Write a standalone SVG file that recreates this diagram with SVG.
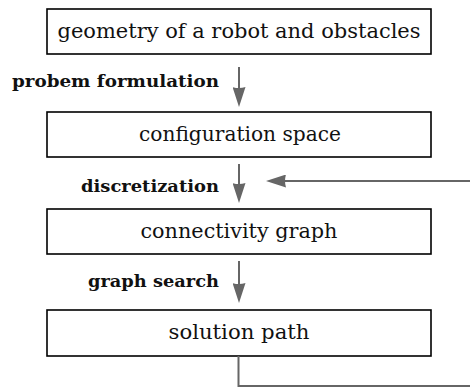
<svg xmlns="http://www.w3.org/2000/svg" width="470" height="388" viewBox="0 0 470 388">
<style>
.box{fill:#fff;stroke:#000;stroke-width:1.6}
.t{font-family:'DejaVu Serif','Liberation Serif',serif;font-size:20px;fill:#111;text-anchor:middle}
.l{font-family:'DejaVu Serif','Liberation Serif',serif;font-size:16px;font-weight:bold;fill:#111;text-anchor:end}
.c{fill:none;stroke:#666;stroke-width:2}
</style>
<defs>
<marker id="ah" viewBox="0 0 20 13" refX="10" refY="6.5" markerWidth="20" markerHeight="13" markerUnits="userSpaceOnUse" orient="auto">
<path d="M0,0 L20,6.5 L0,13 Q2,6.5 0,0 Z" fill="#666"/>
</marker>
</defs>
<g id="n1"><rect class="box" x="47" y="9" width="384" height="45"/><text class="t" x="239" y="37.5" textLength="363" lengthAdjust="spacingAndGlyphs">geometry of a robot and obstacles</text></g>
<g id="n2"><rect class="box" x="47" y="112" width="384" height="45"/><text class="t" x="240" y="140.5" textLength="202" lengthAdjust="spacingAndGlyphs">configuration space</text></g>
<g id="n3"><rect class="box" x="47" y="209" width="384" height="45"/><text class="t" x="239" y="237.5" textLength="197" lengthAdjust="spacingAndGlyphs">connectivity graph</text></g>
<g id="n4"><rect class="box" x="47" y="310" width="384" height="46"/><text class="t" x="239" y="339" textLength="141" lengthAdjust="spacingAndGlyphs">solution path</text></g>
<g id="connectors">
<line class="c" x1="239" y1="67" x2="239" y2="97" marker-end="url(#ah)"/>
<line class="c" x1="239" y1="164" x2="239" y2="193" marker-end="url(#ah)"/>
<line class="c" x1="239" y1="261" x2="239" y2="293" marker-end="url(#ah)"/>
<line class="c" x1="470" y1="181" x2="276" y2="181" marker-end="url(#ah)"/>
<polyline class="c" points="238.5,356 238.5,386 470,386"/>
</g>
<g id="labels">
<text class="l" x="219" y="87" textLength="207" lengthAdjust="spacingAndGlyphs">probem formulation</text>
<text class="l" x="219" y="191.5" textLength="138" lengthAdjust="spacingAndGlyphs">discretization</text>
<text class="l" x="219" y="286.5" textLength="131" lengthAdjust="spacingAndGlyphs">graph search</text>
</g>
</svg>
